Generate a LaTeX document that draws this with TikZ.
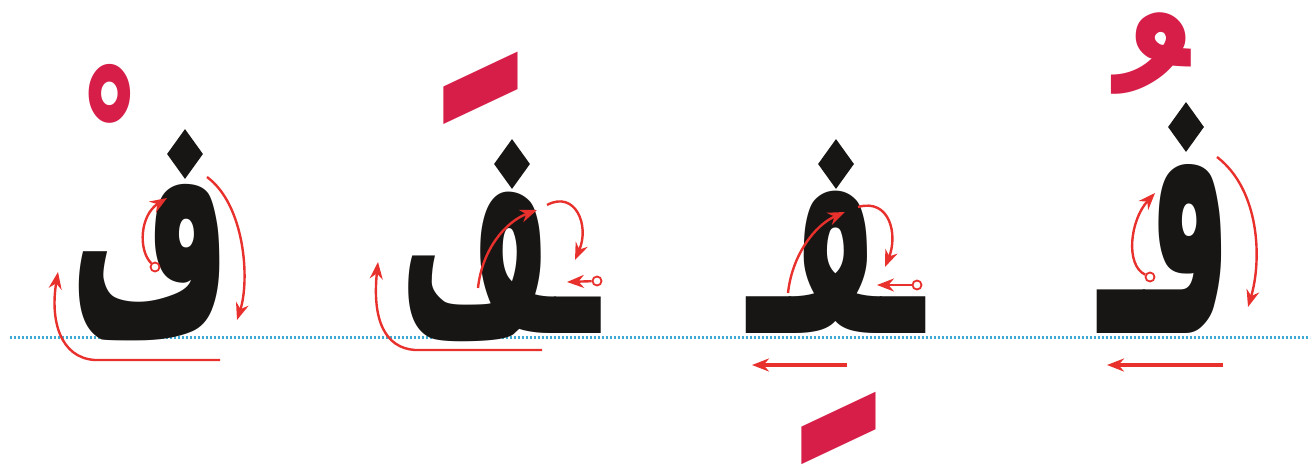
\documentclass[tikz,border=0pt]{standalone}
\usepackage{fontspec}
\newfontfamily\arabicfont[Script=Arabic]{DejaVu Sans}
\TeXXeTstate=1
\usetikzlibrary{arrows.meta,shapes.geometric}
\definecolor{harakared}{RGB}{214,30,72}
\definecolor{penred}{RGB}{232,48,44}
\definecolor{lineblue}{RGB}{60,170,210}
\definecolor{inkblack}{RGB}{24,22,20}
\tikzset{glyph/.style={inner sep=0pt,anchor=base,text=inkblack,font=\fontsize{100}{100}\arabicfont\bfseries},
 haraka/.style={inner sep=0pt,text=harakared,font=\fontsize{100}{100}\arabicfont\bfseries},
 nuqta/.style={diamond,fill=inkblack,inner sep=0pt,minimum width=36pt,minimum height=50pt},
 penpath/.style={draw=penred,line width=2.4pt,-{Stealth[length=17pt,width=13pt]}},
 pendot/.style={circle,draw=penred,fill=white,line width=1.8pt,inner sep=0pt,minimum size=9pt},
 guideline/.style={draw=lineblue,line width=3pt,dash pattern=on 2.2pt off 1.8pt}}
\begin{document}
\begin{tikzpicture}[x=1pt,y=-1pt]
\useasboundingbox (0,0) rectangle (1316,468);
\draw[guideline] (10,337) -- (1310,337);
% the four forms of the letter
\node[glyph,xscale=1.38,yscale=3.08] (faisol) at (151,333) {\arabicfont\beginR ف\endR};
\node[glyph,xscale=1.30,yscale=2.92] (fafin) at (500,333) {\arabicfont\beginR ـف\endR};
\node[glyph,xscale=1.26,yscale=2.94] (famid) at (836,333) {\arabicfont\beginR ـفـ\endR};
\node[glyph,xscale=1.34,yscale=3.49] (faini) at (1165,333) {\arabicfont\beginR فـ\endR};
\node[nuqta] (isoldot) at (185,154) {};
\node[nuqta] (findot) at (512,164) {};
\node[nuqta] (middot) at (836,164) {};
\node[nuqta] (inidot) at (1186,127) {};
% harakat
\node[haraka,anchor=north,xscale=1.55,yscale=2.2] (sukun) at (110,63) {\raisebox{-60pt}[28pt][0pt]{\arabicfont\beginR ﹾ\endR}};
\node[haraka,anchor=north,xscale=2.6,yscale=5.5] (fatha) at (481,52) {\raisebox{-60pt}[12pt][0pt]{\arabicfont\beginR ﹶ\endR}};
\node[haraka,anchor=south,xscale=2.6,yscale=5.5] (kasra) at (839,462) {\raisebox{3pt}[0pt][10pt]{\arabicfont\beginR ﹺ\endR}};
\node[haraka,anchor=north,xscale=2.8,yscale=2.8] (damma) at (1151,13) {\raisebox{-58pt}[30pt][0pt]{\arabicfont\beginR ﹸ\endR}};
% strokes: isolated
\node[pendot] (isolstart) at (155,267) {};
\draw[penpath] (isolstart) .. controls (138,250) and (140,215) .. (167,198);
\draw[penpath] (207,177) .. controls (245,205) and (250,280) .. (237,320);
\draw[penpath] (220,360) -- (95,360) .. controls (60,358) and (50,320) .. (58,272);
% strokes: final
\draw[penpath] (478,288) .. controls (482,250) and (505,222) .. (537,210);
\draw[penpath] (547,205) .. controls (575,190) and (590,225) .. (575,260);
\node[pendot] (finstart) at (597,281) {};
\draw[penpath] (finstart) -- (567,282);
\draw[penpath] (542,350) -- (415,350) .. controls (385,348) and (372,320) .. (378,262);
% strokes: medial
\draw[penpath] (788,293) .. controls (792,255) and (815,225) .. (845,212);
\draw[penpath] (858,207) .. controls (890,198) and (898,235) .. (885,267);
\node[pendot] (midstart) at (917,285) {};
\draw[penpath] (midstart) -- (877,285);
\draw[penpath,line width=3.2pt] (847,365) -- (752,365);
% strokes: initial
\node[pendot] (inistart) at (1150,277) {};
\draw[penpath] (inistart) .. controls (1125,265) and (1130,220) .. (1155,193);
\draw[penpath] (1217,157) .. controls (1260,190) and (1262,260) .. (1248,307);
\draw[penpath,line width=3.2pt] (1223,365) -- (1107,365);
\end{tikzpicture}
\end{document}
